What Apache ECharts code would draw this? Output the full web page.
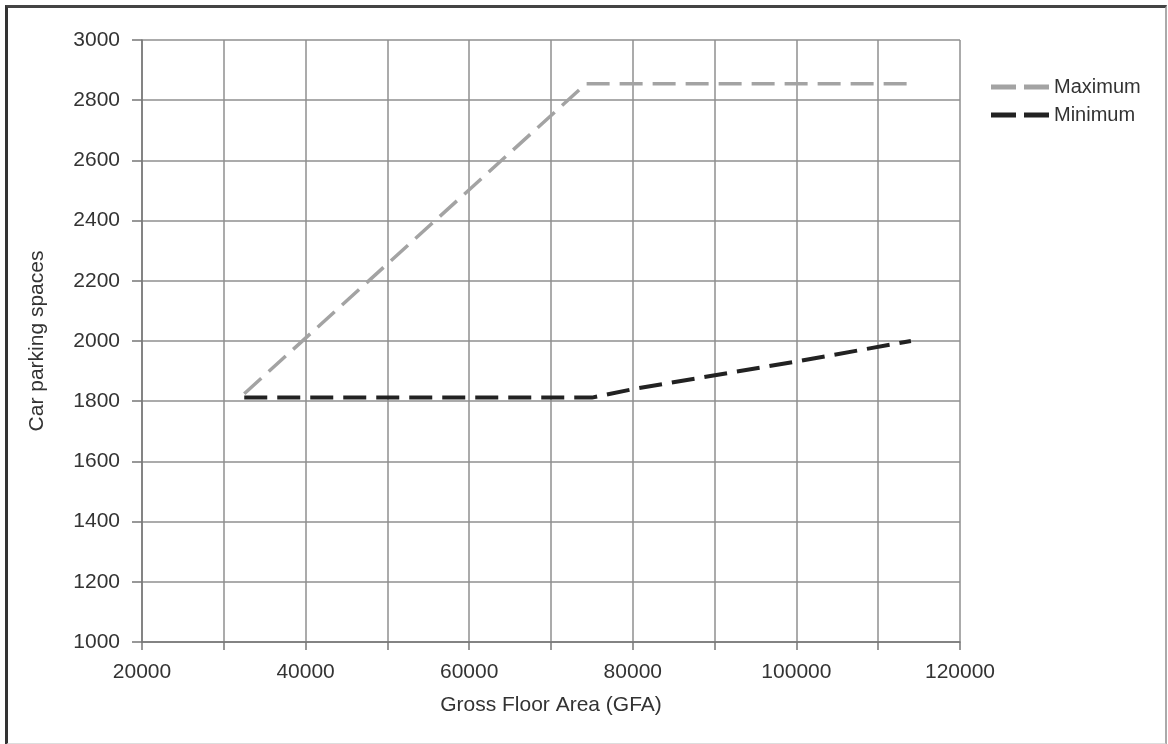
<!DOCTYPE html>
<html>
<head>
<meta charset="utf-8">
<script src="https://cdn.jsdelivr.net/npm/echarts@6/dist/echarts.min.js"></script>
<style>
  html, body { margin: 0; padding: 0; background: #fff; }
  #chart { position: absolute; left: 0; top: 0; width: 1168px; height: 744px; }
  #frame { position: absolute; left: 5px; top: 5px; width: 1157px; height: 735px;
           border-left: 3px solid #333; border-top: 3px solid #444;
           border-right: 2px solid #aaa; border-bottom: 2px solid #ddd; pointer-events: none; }
</style>
</head>
<body>
<div id="chart"></div>
<div id="frame"></div>
<script>
const seriesNames = ['Maximum', 'Minimum'];
const maximumData = [[32500, 1825], [74300, 2855], [113600, 2855]];
const minimumData = [[32500, 1812], [75000, 1812], [80000, 1840], [100000, 1932], [114000, 2000]];
const xTickLabels = [20000, 40000, 60000, 80000, 100000, 120000];
const yTickLabels = [1000, 1200, 1400, 1600, 1800, 2000, 2200, 2400, 2600, 2800, 3000];

const chart = echarts.init(document.getElementById('chart'));
const font = 'Liberation Sans, Arial, sans-serif';
const grid = '#8f8f8f';
const dashIcon = 'path://M0,0h25v5h-25z M33,0h25v5h-25z';

chart.setOption({
  animation: false,
  textStyle: { fontFamily: font },
  grid: { left: 142, right: 208, top: 40, bottom: 102, containLabel: false },
  legend: {
    orient: 'vertical',
    left: 986, top: 72,
    itemWidth: 58, itemHeight: 5, itemGap: 8,
    textStyle: { fontSize: 20, color: '#333', fontFamily: font },
    data: seriesNames.map(n => ({ name: n, icon: dashIcon }))
  },
  xAxis: {
    type: 'value', min: 20000, max: 120000, interval: 10000,
    name: 'Gross Floor Area (GFA)', nameLocation: 'middle', nameGap: 53,
    nameTextStyle: { fontSize: 21, color: '#333' },
    axisLine: { show: true, onZero: false, lineStyle: { color: '#777', width: 1.5 } },
    axisTick: { show: true, length: 8, lineStyle: { color: '#777', width: 1.5 } },
    axisLabel: { fontSize: 21, color: '#333', margin: 20,
      formatter: v => xTickLabels.includes(v) ? String(v) : '' },
    splitLine: { show: true, lineStyle: { color: grid, width: 1.5 } }
  },
  yAxis: {
    type: 'value', min: 1000, max: 3000, interval: 200,
    name: 'Car parking spaces', nameLocation: 'middle', nameGap: 94,
    nameTextStyle: { fontSize: 21, color: '#333' },
    axisLine: { show: true, lineStyle: { color: '#777', width: 1.5 } },
    axisTick: { show: true, length: 10, lineStyle: { color: '#777', width: 1.5 } },
    axisLabel: { fontSize: 21, color: '#333', margin: 22,
      formatter: v => yTickLabels.includes(v) ? String(v) : '' },
    splitLine: { show: true, lineStyle: { color: grid, width: 1.5 } }
  },
  series: [
    {
      name: seriesNames[0], type: 'line', data: maximumData, symbol: 'none',
      lineStyle: { color: '#a3a3a3', width: 3.5, type: [23, 10] },
      itemStyle: { color: '#a3a3a3' }
    },
    {
      name: seriesNames[1], type: 'line', data: minimumData, symbol: 'none',
      lineStyle: { color: '#222', width: 4, type: [23, 10] },
      itemStyle: { color: '#222' }
    }
  ]
});
</script>
</body>
</html>
